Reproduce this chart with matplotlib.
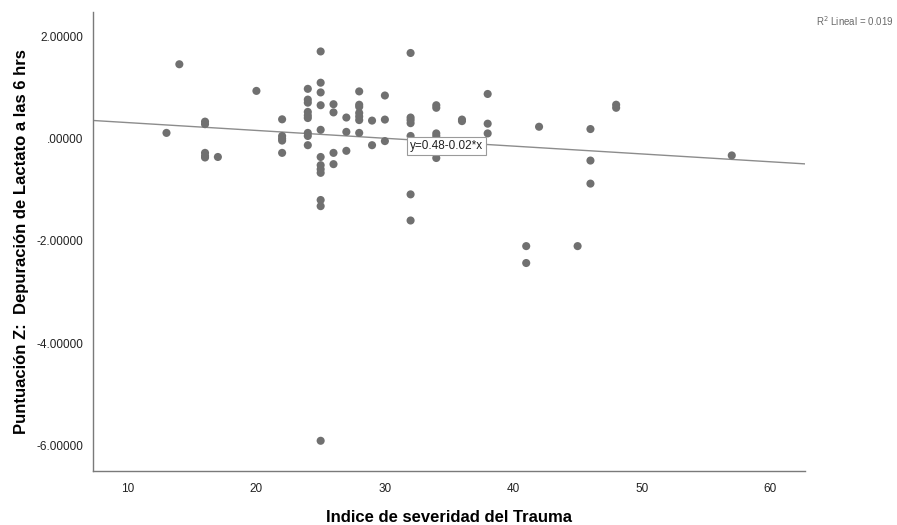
import numpy as np
import matplotlib
matplotlib.use("Agg")
import matplotlib.pyplot as plt

plt.rcParams['font.family'] = ['Liberation Sans', 'DejaVu Sans']

# Índice de severidad del Trauma (x) and Z score of lactate clearance (y)
iss = ([13] + [14] + [16]*5 + [17] + [20] + [22]*5 + [24]*9 + [25]*12 + [26]*4 +
       [27]*3 + [28]*7 + [29]*2 + [30]*3 + [32]*7 + [34]*5 + [36]*2 + [38]*3 +
       [41]*2 + [42] + [45] + [46]*3 + [48]*2 + [57])
zscore = ([0.11] + [1.45] + [0.33, 0.28, -0.28, -0.34, -0.37] + [-0.36] + [0.93] +
          [0.375, 0.05, 0.0, -0.04, -0.28] +
          [0.97, 0.76, 0.70, 0.52, 0.45, 0.40, 0.11, 0.05, -0.13] +
          [1.70, 1.09, 0.90, 0.65, 0.17, -0.36, -0.52, -0.60, -0.67, -1.20, -1.32, -5.90] +
          [0.67, 0.51, -0.28, -0.50] +
          [0.41, 0.13, -0.24] +
          [0.92, 0.66, 0.62, 0.50, 0.43, 0.36, 0.11] +
          [0.35, -0.13] +
          [0.84, 0.37, -0.05] +
          [1.67, 0.41, 0.36, 0.30, 0.05, -1.09, -1.60] +
          [0.65, 0.60, 0.10, 0.05, -0.38] +
          [0.37, 0.34] +
          [0.87, 0.29, 0.10] +
          [-2.10, -2.43] + [0.23] + [-2.10] + [0.185, -0.43, -0.88] + [0.66, 0.60] + [-0.33])

xticks = [10, 20, 30, 40, 50, 60]
yticks = [2, 0, -2, -4, -6]
ytick_labels = ["2.00000", ".00000", "-2.00000", "-4.00000", "-6.00000"]

x = np.array(iss, dtype=float)
y = np.array(zscore, dtype=float)
slope, intercept = np.polyfit(x, y, 1)

fig = plt.figure(figsize=(8.97, 5.25), dpi=100)
ax = fig.add_axes([93/897, 54/525, (805-93)/897, (471-12)/525])

ax.scatter(x, y, s=34, color='#707070', edgecolors='none', zorder=3)

xlim = (7.28, 62.7)
ylim = (-6.49, 2.47)
xs = np.array(xlim)
ax.plot(xs, intercept + slope * xs, color='#8c8c8c', lw=1.0, zorder=2)
ax.set_xlim(*xlim)
ax.set_ylim(*ylim)

ax.set_xticks(xticks)
ax.set_yticks(yticks)
ax.set_yticklabels(ytick_labels)
ax.tick_params(length=0, labelsize=8.5, colors='#222222')
ax.tick_params(axis='x', pad=9)
ax.tick_params(axis='y', pad=7)
for s in ['top', 'right']:
    ax.spines[s].set_visible(False)
for s in ['left', 'bottom']:
    ax.spines[s].set_color('#7a7a7a')
    ax.spines[s].set_linewidth(1.0)

ax.text(31.95, -0.02, "y=0.48-0.02*x", fontsize=8.5, ha='left', va='top',
        color='#222222', zorder=5,
        bbox=dict(boxstyle='square,pad=0.25', fc='white', ec='#9a9a9a', lw=0.8))

fig.text(894/897, 1 - 21/525, "R$^2$ Lineal = 0.019", fontsize=7, ha='right',
         va='center', color='#6a6a6a')

fig.text(449/897, 1 - 522/525, "Indice de severidad del Trauma", fontsize=12,
         fontweight='bold', ha='center', va='baseline', color='#000000')
fig.text(22/897, 1 - 242/525, "Puntuación Z:  Depuración de Lactato a las 6 hrs",
         fontsize=12, fontweight='bold', rotation=90, ha='center', va='center',
         color='#000000')

fig.savefig("out.png", dpi=100)
